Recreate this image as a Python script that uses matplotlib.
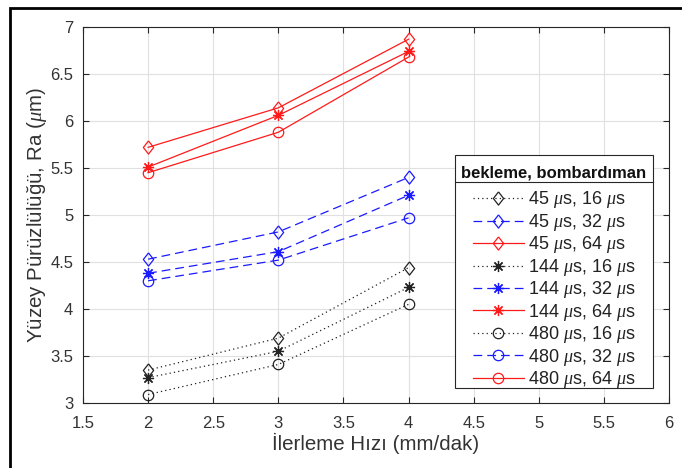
import matplotlib
matplotlib.use("Agg")
import matplotlib.pyplot as plt
from matplotlib.lines import Line2D
from matplotlib.patches import Rectangle

plt.rcParams['font.family'] = ['Liberation Sans', 'DejaVu Sans']
plt.rcParams['mathtext.fontset'] = 'custom'
plt.rcParams['mathtext.it'] = 'Liberation Serif:italic'

feed = [2, 3, 4]
labels = ['45 $\\mu$s, 16 $\\mu$s', '45 $\\mu$s, 32 $\\mu$s', '45 $\\mu$s, 64 $\\mu$s',
          '144 $\\mu$s, 16 $\\mu$s', '144 $\\mu$s, 32 $\\mu$s', '144 $\\mu$s, 64 $\\mu$s',
          '480 $\\mu$s, 16 $\\mu$s', '480 $\\mu$s, 32 $\\mu$s', '480 $\\mu$s, 64 $\\mu$s']
legend_title = 'bekleme, bombardıman'
ra_45_16 = [3.35, 3.69, 4.44]
ra_45_32 = [4.53, 4.82, 5.40]
ra_45_64 = [5.72, 6.14, 6.87]
ra_144_16 = [3.27, 3.55, 4.23]
ra_144_32 = [4.38, 4.61, 5.21]
ra_144_64 = [5.51, 6.06, 6.74]
ra_480_16 = [3.09, 3.41, 4.05]
ra_480_32 = [4.30, 4.52, 4.97]
ra_480_64 = [5.45, 5.88, 6.68]
series = [ra_45_16, ra_45_32, ra_45_64, ra_144_16, ra_144_32, ra_144_64,
          ra_480_16, ra_480_32, ra_480_64]

W, H = 682, 468
fig = plt.figure(figsize=(W/100, H/100), dpi=100)
ax = fig.add_axes([83/W, 1-403/H, (669-83)/W, (403-27)/H])

colors = {16: '#222222', 32: '#1a1aff', 64: '#ff1a1a'}
styles = {16: (0, (1, 2.5)), 32: (0, (7, 4)), 64: '-'}
diamond = [(0, 1), (0.78, 0), (0, -1), (-0.78, 0), (0, 1)]
markers = {45: diamond, 144: (8, 2, 0), 480: 'o'}
msizes = {45: 9.5, 144: 8, 480: 7.5}

i = 0
for w in [45, 144, 480]:
    for b in [16, 32, 64]:
        ax.plot(feed, series[i], color=colors[b], linestyle=styles[b], linewidth=0.9,
                marker=markers[w], markersize=msizes[w],
                markerfacecolor='none', markeredgecolor=colors[b],
                markeredgewidth=0.9, label=labels[i])
        i += 1

ax.set_xlim(1.5, 6)
ax.set_ylim(3, 7)
ax.set_xticks([1.5, 2, 2.5, 3, 3.5, 4, 4.5, 5, 5.5, 6])
ax.set_xticklabels(['1.5', '2', '2.5', '3', '3.5', '4', '4.5', '5', '5.5', '6'])
ax.set_yticks([3, 3.5, 4, 4.5, 5, 5.5, 6, 6.5, 7])
ax.set_yticklabels(['3', '3.5', '4', '4.5', '5', '5.5', '6', '6.5', '7'])
ax.grid(True, color='#e0e0e0', linewidth=0.8)
ax.set_axisbelow(True)
ax.tick_params(direction='in', top=True, right=True, length=4, width=0.8,
               labelsize=12, colors='#262626', labelcolor='#333333')
ax.tick_params(axis='x', pad=9)
ax.tick_params(axis='y', pad=7)
for s in ax.spines.values():
    s.set_color('#262626')
    s.set_linewidth(0.8)
ax.set_xlabel('İlerleme Hızı (mm/dak)', fontsize=14.8, color='#333333', labelpad=2)
ax.set_ylabel('Yüzey Pürüzlülüğü, Ra ($\\mu$m)', fontsize=14.8, color='#333333', labelpad=1)

# legend box (MATLAB style with separate title cell)
bx0, bx1, by0, by1, ysep = 455, 653, 155, 388, 182
ax.add_patch(Rectangle((bx0/W, 1-by1/H), (bx1-bx0)/W, (by1-by0)/H, transform=fig.transFigure,
                       facecolor='white', edgecolor='#262626', linewidth=0.8,
                       zorder=4.5, clip_on=False))
ax.add_line(Line2D([bx0/W, bx1/W], [1-ysep/H, 1-ysep/H], transform=fig.transFigure,
                   color='#262626', linewidth=0.8, zorder=4.6, clip_on=False))
fig.text((bx0+bx1)/2/W, 1-177/H, legend_title, ha='center', va='baseline',
         fontsize=12, fontweight='bold', color='#111111')

leg = ax.legend(loc='upper left', bbox_to_anchor=(473/W, 1-189.5/H),
                bbox_transform=fig.transFigure, fontsize=13, frameon=False,
                handlelength=2.8, handletextpad=0.25, labelspacing=0.08,
                borderaxespad=0, borderpad=0)
for t in leg.get_texts():
    t.set_color('#222222')

# outer frame
fig.add_artist(Rectangle((10/W, -0.1), 1.2, 1 - 8/H + 0.1, transform=fig.transFigure,
                         fill=False, edgecolor='black', linewidth=2))

fig.savefig('out.png', dpi=100)
